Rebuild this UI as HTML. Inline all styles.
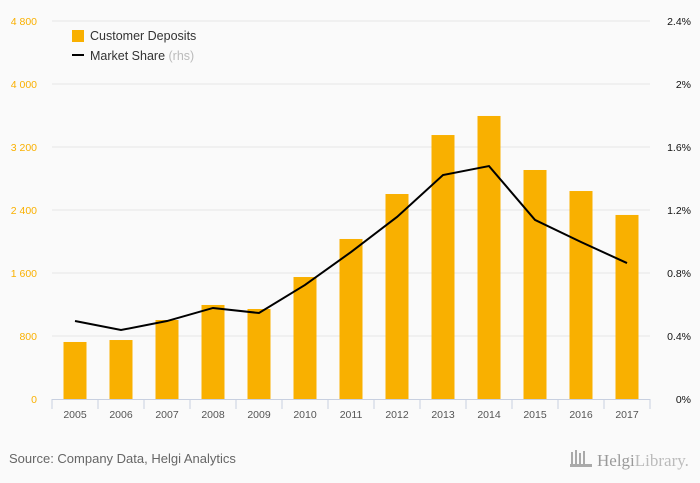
<!DOCTYPE html>
<html><head><meta charset="utf-8"><style>
body{margin:0;background:#fafafa;font-family:"Liberation Sans",sans-serif;}
svg{display:block}
</style></head><body>
<svg width="700" height="483" viewBox="0 0 700 483">
<rect width="700" height="483" fill="#fafafa"/>
<g id="grid"></g><g id="bars"></g><g id="line"></g><g id="axes"></g>
<g>
<rect x="72" y="30" width="12" height="12" fill="#f9b000"/>
<text x="90" y="40" font-size="12.5" fill="#333">Customer Deposits</text>
<line x1="72" y1="55" x2="84" y2="55" stroke="#000" stroke-width="2"/>
<text x="90" y="60" font-size="12.5" fill="#333">Market Share <tspan fill="#bbb">(rhs)</tspan></text>
</g>
<line x1="0" y1="432" x2="700" y2="432" stroke="#fafafa"/>
<text x="9" y="463" font-size="13" fill="#666">Source: Company Data, Helgi Analytics</text>
<g>
<rect x="571" y="452" width="2" height="12" fill="#aaa"/><rect x="575" y="450" width="2" height="14" fill="#aaa"/><rect x="579" y="453" width="2" height="11" fill="#aaa"/><rect x="583" y="451" width="2" height="13" fill="#aaa"/><rect x="570" y="464" width="22" height="3" fill="#aaa"/>
<text x="597" y="466" font-size="17" fill="#999" font-family="Liberation Serif,serif">Helgi<tspan fill="#bbb">Library.</tspan></text>
</g>
</svg>
<script>
const years=["2005","2006","2007","2008","2009","2010","2011","2012","2013","2014","2015","2016","2017"];
const deposits=[724,749,1003,1194,1143,1549,2032,2603,3352,3594,2908,2641,2337];
const share=[0.495,0.438,0.495,0.578,0.546,0.724,0.933,1.156,1.422,1.479,1.137,0.997,0.863];
const leftTicks=[0,800,1600,2400,3200,4000,4800];
const rightTicks=[0,0.4,0.8,1.2,1.6,2.0,2.4];
const NS="http://www.w3.org/2000/svg";
const X0=52,X1=650,Y0=399,Y1=21,bw=(X1-X0)/years.length;
const yL=v=>Y0-(v/4800)*(Y0-Y1), yR=v=>Y0-(v/2.4)*(Y0-Y1), xc=i=>X0+bw*(i+0.5);
function mk(t,a,p){const e=document.createElementNS(NS,t);for(const k in a)e.setAttribute(k,a[k]);p.appendChild(e);return e;}
const G=document.getElementById('grid'),B=document.getElementById('bars'),L=document.getElementById('line'),A=document.getElementById('axes');
leftTicks.forEach((v,i)=>{
 if(v>0){const g=mk('line',{x1:X0,x2:X1,y1:yL(v),y2:yL(v),stroke:'#e6e6e6'},G);
 
 }
 const t=mk('text',{x:37,y:yL(v)+4,'font-size':10.5,fill:'#f9b000','text-anchor':'end'},A);t.textContent=v.toLocaleString('en').replace(/,/g,' ');
 
 
});
rightTicks.forEach(v=>{
 const t=mk('text',{x:691,y:yR(v)+4,'font-size':10.5,fill:'#111','text-anchor':'end'},A);t.textContent=(Math.round(v*10)/10)+'%';
 
 
});
deposits.forEach((v,i)=>{
 const r=mk('rect',{x:xc(i)-11.5,y:yL(v),width:23,height:Y0-yL(v),fill:'#f9b000'},B);
 
 
});
const pl=mk('polyline',{points:share.map((v,i)=>xc(i)+','+yR(v)).join(' '),fill:'none',stroke:'#000','stroke-width':2},L);


const ax=mk('line',{x1:X0,x2:X1,y1:Y0+0.5,y2:Y0+0.5,stroke:'#c8d0e0'},A);


for(let i=0;i<=years.length;i++){const tk=mk('line',{x1:X0+bw*i,x2:X0+bw*i,y1:Y0,y2:Y0+10,stroke:'#c8d0e0'},A);
 
 }
years.forEach((y,i)=>{const t=mk('text',{x:xc(i),y:Y0+19,'font-size':10.5,fill:'#555','text-anchor':'middle'},A);t.textContent=y;
 
 });
</script>
</body></html>
